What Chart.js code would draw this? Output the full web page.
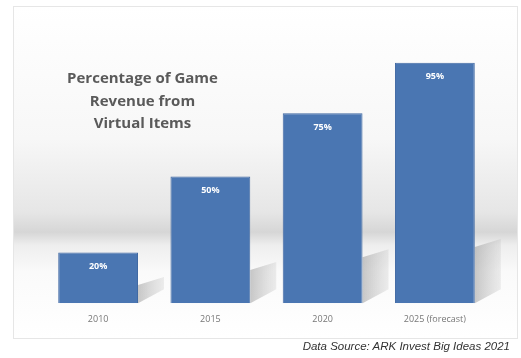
<!DOCTYPE html>
<html>
<head>
<meta charset="utf-8">
<script src="https://cdn.jsdelivr.net/npm/chart.js@4.4.0/dist/chart.umd.min.js"></script>
<style>
  html, body { margin: 0; padding: 0; background: #fff; }
  body { width: 521px; height: 358px; position: relative; overflow: hidden; }
  #frame {
    position: absolute; left: 13px; top: 6px; width: 503px; height: 331px;
    border: 1px solid #e6e6e6;
    background: linear-gradient(to bottom, #ffffff 0%, #f7f7f7 40%, #e6e6e6 62%, #d6d6d6 68%, #eeeeee 72%, #fafafa 80%, #ffffff 100%);
  }
  #chartBox { position: absolute; left: 0; top: 0; width: 521px; height: 358px; }
  #title {
    position: absolute; left: 40px; top: 66px; width: 205px;
    text-align: center; font-family: "Open Sans", sans-serif; font-weight: bold;
    font-size: 15px; line-height: 22.5px; color: #5a5a5a;
  }
  #source {
    position: absolute; right: 11px; top: 340px;
    font-family: "Liberation Sans", sans-serif; font-style: italic;
    font-size: 11.5px; color: #333;
  }
</style>
</head>
<body>
<div id="frame"></div>
<div id="chartBox"><canvas id="revenueChart" width="521" height="358"></canvas></div>
<div id="title">Percentage of Game<br>Revenue from<br>Virtual Items</div>
<div id="source">Data Source: ARK Invest Big Ideas 2021</div>
<script>
// Datos del gráfico
const years = ['2010', '2015', '2020', '2025 (forecast)'];
const shares = [20, 50, 75, 95];
const valueLabels = ['20%', '50%', '75%', '95%'];

// Sombra diagonal detrás de cada barra
const barShadow = {
  id: 'barShadow',
  beforeDatasetsDraw(chart) {
    const ctx = chart.ctx;
    const meta = chart.getDatasetMeta(0);
    ctx.save();
    meta.data.forEach(bar => {
      const right = bar.x + bar.width / 2;
      const h = bar.base - bar.y;
      const s = h * 0.2 + 8;
      const g = ctx.createLinearGradient(right, 0, right + 28, 0);
      g.addColorStop(0, 'rgba(120,120,120,0.4)');
      g.addColorStop(1, 'rgba(150,150,150,0.12)');
      ctx.fillStyle = g;
      ctx.beginPath();
      ctx.moveTo(right, bar.base);
      ctx.lineTo(right, bar.base - s);
      ctx.lineTo(right + 26, bar.base - s - 8);
      ctx.lineTo(right + 26, bar.base - 14);
      ctx.closePath();
      ctx.fill();
    });
    ctx.restore();
  }
};

// Etiquetas de valor dentro de las barras
const barLabels = {
  id: 'barLabels',
  afterDatasetsDraw(chart) {
    const ctx = chart.ctx;
    const meta = chart.getDatasetMeta(0);
    ctx.save();
    ctx.fillStyle = '#ffffff';
    ctx.font = 'bold 9px "Open Sans", sans-serif';
    ctx.textAlign = 'center';
    ctx.textBaseline = 'middle';
    meta.data.forEach((bar, i) => {
      ctx.fillText(valueLabels[i], bar.x, bar.y + 14);
    });
    ctx.restore();
  }
};

const ctx = document.getElementById('revenueChart').getContext('2d');
new Chart(ctx, {
  type: 'bar',
  data: {
    labels: years,
    datasets: [{
      data: shares,
      backgroundColor: '#4a76b2',
      borderColor: '#4069a3',
      borderWidth: 1,
      barPercentage: 0.9,
      categoryPercentage: 0.79
    }]
  },
  options: {
    responsive: false,
    animation: false,
    layout: { padding: { left: 42, right: 30, top: 50, bottom: 22 } },
    plugins: { legend: { display: false }, tooltip: { enabled: false } },
    scales: {
      x: {
        grid: { display: false, drawTicks: false },
        border: { display: false },
        ticks: { color: '#777', font: { family: 'Open Sans', size: 9 }, padding: 11, maxRotation: 0 }
      },
      y: {
        display: false,
        min: 0,
        max: 100
      }
    }
  },
  plugins: [barShadow, barLabels]
});
</script>
</body>
</html>
